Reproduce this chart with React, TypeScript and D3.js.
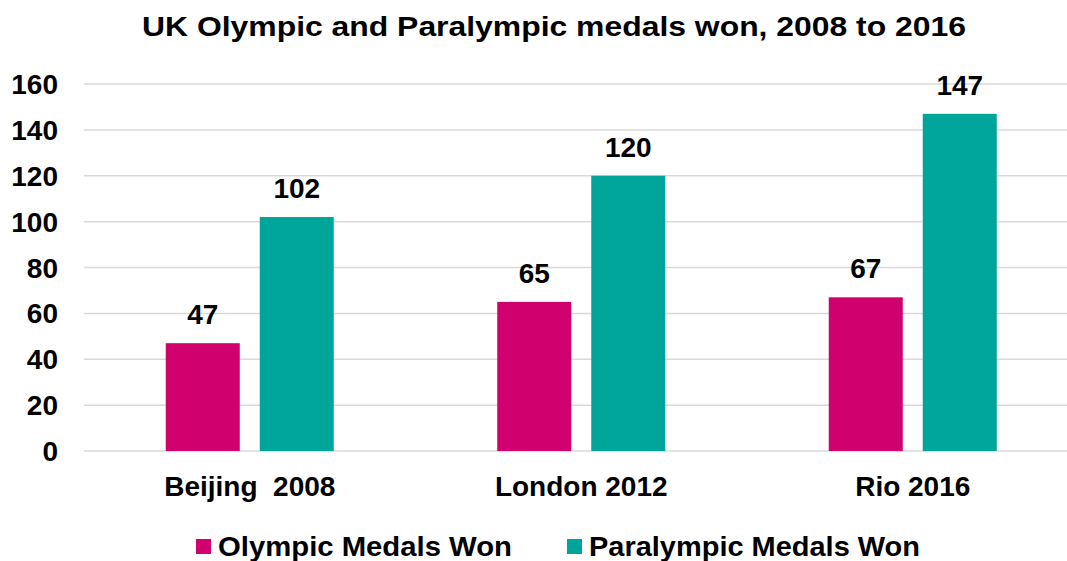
import React from "react";
import * as d3 from "d3";

const categories = ["Beijing  2008", "London 2012", "Rio 2016"];
const seriesNames = ["Olympic Medals Won", "Paralympic Medals Won"];
const olympic = [47, 65, 67];
const paralympic = [102, 120, 147];
const yTicks = [0, 20, 40, 60, 80, 100, 120, 140, 160];
const colors = ["#D0006F", "#00A59A"];

const W = 1067;
const H = 561;
const FONT = "'Liberation Sans', Arial, Helvetica, sans-serif";

export default function App() {
  const values = [olympic, paralympic];
  const y = d3.scaleLinear().domain([0, 160]).range([451, 84]);
  const x0 = d3.scaleBand<string>().domain(categories).range([84, 1078.5]).padding(0);
  const groupW = 168;
  const off = (x0.bandwidth() - groupW) / 2;
  const x1 = d3
    .scaleBand<string>()
    .domain(seriesNames)
    .range([off, off + groupW])
    .paddingInner(0.2128)
    .paddingOuter(0);

  const legendX = [196, 567];
  const legendLen = [294, 331];

  return (
    <svg
      width={W}
      height={H}
      style={{ position: "absolute", left: 0, top: 0, background: "#fff" }}
      fontFamily={FONT}
      fontWeight="bold"
    >
      <text
        x={142}
        y={36}
        fontSize={28}
        fill="#000"
        textLength={824}
        lengthAdjust="spacingAndGlyphs"
      >
        UK Olympic and Paralympic medals won, 2008 to 2016
      </text>
      {yTicks.map((t) => (
        <g key={t}>
          <line x1={84} x2={1078} y1={y(t)} y2={y(t)} stroke="#d9d9d9" strokeWidth={1.5} />
          <text x={58} y={y(t) + 10} textAnchor="end" fontSize={28} fill="#000">
            {t}
          </text>
        </g>
      ))}
      {categories.map((c, i) => (
        <g key={c} transform={`translate(${x0(c)},0)`}>
          {seriesNames.map((s, j) => {
            const v = values[j][i];
            const bx = x1(s)!;
            const bw = x1.bandwidth();
            return (
              <g key={s}>
                <rect x={bx} y={y(v)} width={bw} height={y(0) - y(v)} fill={colors[j]} />
                <text x={bx + bw / 2} y={y(v) - 19} textAnchor="middle" fontSize={28} fill="#000">
                  {v}
                </text>
              </g>
            );
          })}
          <text
            x={x0.bandwidth() / 2}
            y={496}
            textAnchor="middle"
            fontSize={28}
            fill="#000"
            style={{ whiteSpace: "pre" }}
            xmlSpace="preserve"
          >
            {c}
          </text>
        </g>
      ))}
      {seriesNames.map((s, j) => (
        <g key={s}>
          <rect x={legendX[j]} y={539} width={15} height={15} fill={colors[j]} />
          <text
            x={legendX[j] + 22}
            y={556}
            fontSize={28}
            fill="#000"
            textLength={legendLen[j]}
            lengthAdjust="spacingAndGlyphs"
          >
            {s}
          </text>
        </g>
      ))}
    </svg>
  );
}
